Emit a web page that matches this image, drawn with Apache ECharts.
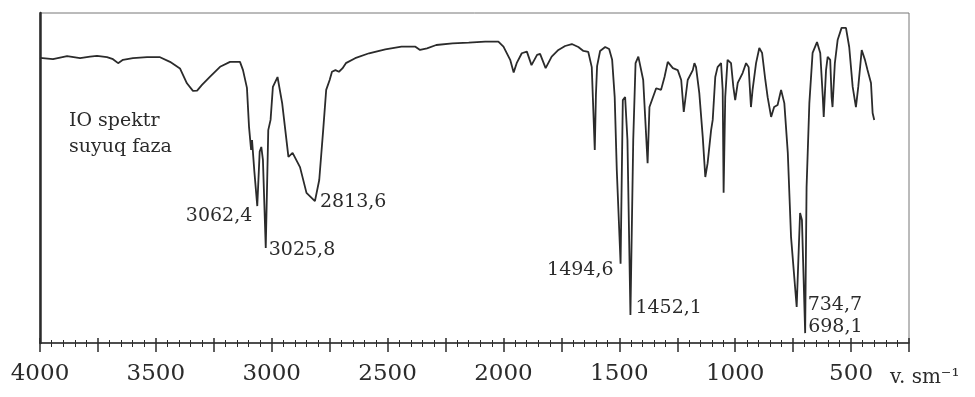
<!DOCTYPE html>
<html>
<head>
<meta charset="utf-8">
<script src="https://cdn.jsdelivr.net/npm/echarts@6/dist/echarts.min.js"></script>
<style>
html,body{margin:0;padding:0;background:#fff;}
#c{width:975px;height:397px;}
</style>
</head>
<body>
<div id="c"></div>
<script>
// Wavenumbers (cm^-1) and transmittance (%)
const wavenumbers = [4000,3944,3883,3827,3784,3754,3711,3685,3663,3642,3599,3538,3482,3439,3396,3366,3340,3322,3301,3266,3223,3180,3137,3124,3107,3098,3089,3085,3075,3062.4,3052,3045,3038,3025.8,3015,3005,2995,2975,2955,2928,2910,2878,2850,2813.6,2795,2778,2765,2750,2740,2725,2710,2695,2680,2640,2580,2510,2440,2380,2360,2330,2290,2220,2150,2079,2022,2000,1971,1956,1943,1921,1899,1879,1855,1842,1818,1792,1763,1734,1705,1677,1655,1634,1619,1606,1601,1596,1583,1561,1544,1531,1520,1511,1494.6,1485,1475,1465,1452.1,1440,1430,1418,1397,1378,1370,1363,1341,1320,1305,1291,1269,1248,1233,1222,1205,1183,1176,1169,1155,1140,1129,1119,1104,1097,1086,1076,1061,1054,1050,1043,1033,1018,1008,1000,989,968,953,942,932,925,910,896,884,870,860,845,832,817,802,788,773,759,734.7,725,720,712,698.1,692,680,666,647,633,622,618,608,601,590,584,580,570,558,541,522,508,493,479,469,454,440,429,414,407,400];
const transmittance = [86.4,86.0,86.9,86.3,86.8,87.0,86.6,86.0,84.8,85.8,86.3,86.6,86.6,85.2,83.2,78.7,76.4,76.5,78.2,80.7,83.7,85.2,85.2,82.7,77.3,65.5,58.5,61.5,52,41.5,58,59.4,55.5,28.8,64.5,67.6,77.6,80.6,72.7,56.4,57.6,53.3,45.5,43,49.4,64.5,76.7,79.7,82.2,82.7,82.2,83.2,84.8,86.3,87.8,89.0,89.8,89.8,88.8,89.3,90.3,90.8,91.0,91.3,91.3,89.8,85.8,82.0,84.8,87.8,88.3,84.2,87.3,87.6,83.3,86.8,88.8,90.0,90.6,89.7,88.5,88.2,83.6,58.5,75.2,83.9,88.5,89.7,89.1,85.8,74.5,52.4,24,73.6,74.5,61.5,8.5,61.5,84.8,86.8,79.7,54.5,71.5,71.5,77.2,76.7,80.6,85.2,83.3,82.7,79.7,70.0,79.7,82.7,84.8,83.6,75.8,62.4,50.3,54.5,64.5,67.6,80.6,83.6,84.8,76.7,45.5,74.5,85.8,84.8,77.6,73.6,78.8,81.8,84.8,83.6,71.5,76.7,84.8,89.4,87.9,79.7,74.5,68.5,71.5,72.1,76.7,72.7,57.6,32.1,10.9,30,39.4,37.3,3.0,47.3,72.7,87.9,91.2,87.9,74.5,68.5,82.7,86.7,85.8,74.5,71.5,84.8,91.8,95.5,95.5,89.7,77.6,71.5,77.6,88.8,85.8,82.7,78.8,69.7,67.6];

// Labelled peaks
const peakWn = [3062.4, 3025.8, 2813.6, 1494.6, 1452.1, 734.7, 698.1];
const peakT = [41.5, 28.8, 43, 24, 8.5, 10.9, 3.0];
const peakLabels = ['3062,4', '3025,8', '2813,6', '1494,6', '1452,1', '734,7', '698,1'];

const tickLabels = ['4000','3500','3000','2500','2000','1500','1000','500'];
const axisUnit = 'v. sm⁻¹';
const noteLines = ['IO spektr', 'suyuq faza'];

const FONT = 'DejaVu Serif';
const INK = '#2b2b2b';

const labelStyle = [
  {align:'right', offset:[-5, 10]},
  {align:'left', offset:[3, 2]},
  {align:'left', offset:[5, 1]},
  {align:'right', offset:[-7, 6]},
  {align:'left', offset:[5, -7]},
  {align:'left', offset:[11, -2]},
  {align:'left', offset:[3, -6]}
];

const spectrum = wavenumbers.map((w, i) => [w, transmittance[i]]);
const peaks = peakWn.map((w, i) => ({
  value: [w, peakT[i]],
  label: {
    show: true,
    formatter: peakLabels[i],
    position: 'inside',
    align: labelStyle[i].align,
    verticalAlign: 'middle',
    offset: labelStyle[i].offset,
    fontFamily: FONT, fontSize: 19, color: INK
  }
}));

const chart = echarts.init(document.getElementById('c'), null, {renderer: 'canvas'});
chart.setOption({
  backgroundColor: '#fff',
  animation: false,
  grid: {left: 40, right: 66, top: 13, bottom: 54, show: true, borderColor: '#777', borderWidth: 1},
  xAxis: [{
    type: 'value', inverse: true, min: 250, max: 4000, interval: 250,
    axisLine: {show: true, lineStyle: {color: INK, width: 1.5}},
    axisTick: {show: true, length: 9, lineStyle: {color: INK, width: 1.5}},
    minorTick: {show: true, splitNumber: 5, length: 4, lineStyle: {color: INK, width: 1}},
    splitLine: {show: false},
    axisLabel: {
      margin: 20, fontFamily: FONT, fontSize: 23, color: INK,
      formatter: v => tickLabels.indexOf(String(v)) >= 0 ? String(v) : ''
    }
  }, {
    type: 'value', inverse: true, min: 250, max: 4000, interval: 250, position: 'bottom',
    axisLine: {show: false},
    axisTick: {show: true, inside: true, length: 5, lineStyle: {color: INK, width: 1.5}},
    minorTick: {show: true, splitNumber: 5, length: 3, lineStyle: {color: INK, width: 1}},
    splitLine: {show: false},
    axisLabel: {show: false}
  }],
  yAxis: {
    type: 'value', min: 0, max: 100,
    axisLine: {show: true, lineStyle: {color: INK, width: 2.5}},
    axisTick: {show: false}, axisLabel: {show: false}, splitLine: {show: false}
  },
  graphic: [
    {type: 'text', left: 69, top: 108, style: {text: noteLines.join('\n'), fontFamily: FONT, fontSize: 19, lineHeight: 26, fill: INK}},
    {type: 'text', left: 890, top: 368, style: {text: axisUnit, fontFamily: FONT, fontSize: 20, fill: INK}}
  ],
  series: [{
    type: 'line', data: spectrum, showSymbol: false, symbol: 'none',
    lineStyle: {color: INK, width: 1.8}, silent: true
  }, {
    type: 'scatter', data: peaks, symbolSize: 0,
    itemStyle: {color: INK, opacity: 1},
    silent: true
  }]
});
</script>
</body>
</html>
